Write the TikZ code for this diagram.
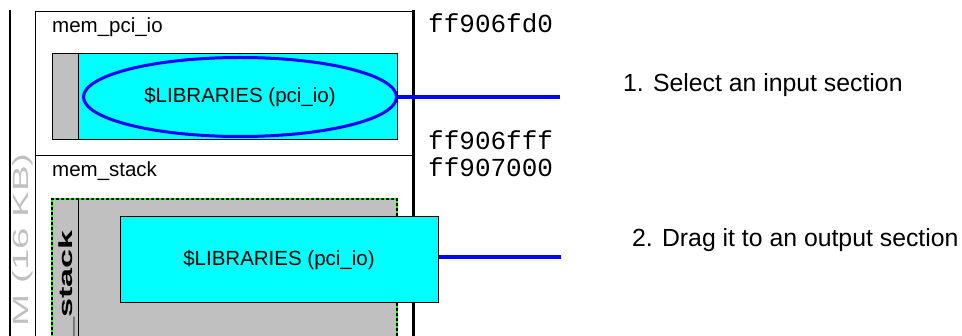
\documentclass[tikz,border=0pt]{standalone}
\usepackage{fontspec}
\setmainfont{Liberation Sans}
\newfontfamily\hexfont{Liberation Mono}
\usepackage{graphicx}
\usetikzlibrary{shapes.geometric}
\definecolor{seccyan}{HTML}{00FFFF}
\definecolor{secgray}{HTML}{C0C0C0}
\definecolor{linkblue}{HTML}{0000FF}
\definecolor{dashgreen}{HTML}{00FF00}
\tikzset{
  hexlabel/.style={anchor=base west, inner sep=0pt, font=\hexfont\fontsize{26}{26}\selectfont},
  memlabel/.style={anchor=base west, inner sep=0pt, font=\fontsize{20.5}{20.5}\selectfont},
  steplabel/.style={anchor=base west, inner sep=0pt, font=\fontsize{24.8}{24.8}\selectfont},
  sectext/.style={font=\fontsize{20.5}{20.5}\selectfont},
  link/.style={linkblue, line width=3.5pt},
}

\begin{document}
\begin{tikzpicture}[x=1pt, y=-1pt]
\useasboundingbox (0,0) rectangle (962,336);
\clip (0,0) rectangle (962,336);

% Memory region frame
\draw[line width=2.5pt] (10,10) -- (10,340);
\draw[line width=1pt] (35,11.5) -- (35,340);
\draw[line width=1pt] (35,12) -- (413,12);
\draw[line width=1pt] (35,156) -- (413,156);
\draw[line width=3pt] (413,10) -- (413,340);

% Greyed region name
\node[rotate=90, anchor=base east, inner sep=0pt, text=secgray,
      font=\fontsize{22}{22}\selectfont] (regname) at (28,153)
      {\scalebox{1.75}[1]{M (16 KB)}};

% mem_pci_io section
\node[memlabel] (pcilabel) at (52,33) {mem\_pci\_io};
\fill[seccyan] (52,54) rectangle (397,140);
\fill[secgray] (52,54) rectangle (78,140);
\draw[line width=1pt] (52,54) rectangle (397,140);
\draw[line width=1pt] (78,54) -- (78,140);

% Selected input section
\node[ellipse, draw=linkblue, line width=3pt, fill=seccyan, sectext,
      minimum width=313pt, minimum height=79pt, inner sep=0pt] (selsec) at (240,97)
      {\$LIBRARIES (pci\_io)};
\coordinate (selend) at (560,97);
\draw[link] (selsec.east) -- (selend);

% mem_stack section
\node[memlabel] (stacklabel) at (52,177) {mem\_stack};
\fill[secgray] (52,199) rectangle (397,340);
\draw[dashgreen, line width=1.2pt] (52,340) -- (52,199) -- (397,199) -- (397,340);
\draw[line width=1.2pt, dash pattern=on 3pt off 2pt] (52,340) -- (52,199) -- (397,199) -- (397,340);
\draw[line width=1pt] (78,199) -- (78,340);
\node[rotate=90, anchor=base east, inner sep=0pt,
      font=\bfseries\fontsize{19}{19}\selectfont] (stackname) at (72,230)
      {\scalebox{1.8}[1]{\_stack}};

% Dragged section
\node[draw, line width=1pt, fill=seccyan, sectext,
      minimum width=318pt, minimum height=86pt] (dragsec) at (279,260)
      {\$LIBRARIES (pci\_io)};
\coordinate (dragend) at (561,257);
\draw[link] (dragsec.east |- dragend) -- (dragend);

% Addresses
\node[hexlabel] (addrA) at (428,33) {ff906fd0};
\node[hexlabel] (addrB) at (428,150) {ff906fff};
\node[hexlabel] (addrC) at (428,177) {ff907000};

% Steps
\node[steplabel] (stepA) at (623,92) {1. Select an input section};
\node[steplabel] (stepB) at (632,247) {2. Drag it to an output section};

\end{tikzpicture}
\end{document}
